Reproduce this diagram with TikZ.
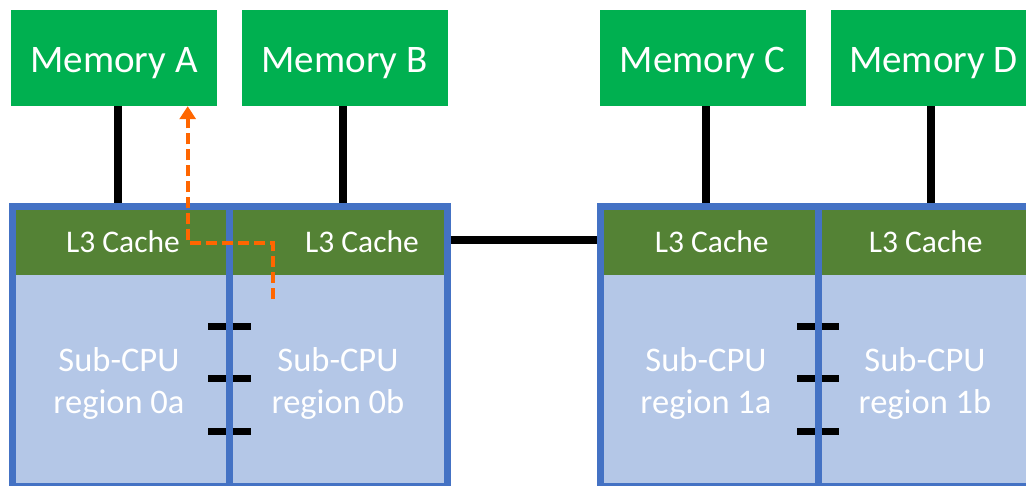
\documentclass[tikz,border=0pt]{standalone}
\usepackage{fontspec}
\setmainfont{Carlito}
\usetikzlibrary{arrows.meta,calc}
\definecolor{memgreen}{HTML}{00B050}
\definecolor{cachegreen}{HTML}{548235}
\definecolor{cpublue}{HTML}{4472C4}
\definecolor{cpufill}{HTML}{B4C7E7}
\definecolor{pathorange}{HTML}{FF6600}
\begin{document}
\begin{tikzpicture}[x=1pt,y=-1pt,
 mem/.style={fill=memgreen, text=white, minimum width=206pt, minimum height=96pt, inner sep=0pt, text height=29.5pt, text depth=0pt, font=\fontsize{39}{46}\selectfont},
 region/.style={draw=cpublue, fill=cpufill, line width=7pt, inner sep=0pt, minimum height=280pt},
 cache/.style={fill=cachegreen, text=white, inner sep=0pt, minimum height=65pt, text depth=0pt, font=\fontsize{31.5}{38}\selectfont},
 cpulbl/.style={text=white, inner sep=0pt, align=center, font=\fontsize{34.5}{42}\selectfont},
 bus/.style={line width=8pt, black},
 tickmark/.style={line width=7pt, black},
 route/.style={pathorange, line width=4pt, dash pattern=on 11pt off 5pt, -{Triangle[width=16pt,length=13pt]}}
]
\clip (0,0) rectangle (1026,485);
\useasboundingbox (0,0) rectangle (1026,485);

% memories
\node[mem] (memA) at (114,58) {Memory A};
\node[mem] (memB) at (344.5,58) {Memory B};
\node[mem] (memC) at (702.5,58) {Memory C};
\node[mem] (memD) at (933.5,58) {Memory D};

% sub-CPU regions
\node[region, minimum width=217pt] (r0a) at (120.5,346) {};
\node[region, minimum width=218pt] (r0b) at (338,346) {};
\node[region, minimum width=217.5pt] (r1a) at (709.25,346) {};
\node[region, minimum width=218pt] (r1b) at (927,346) {};

% caches
\node[cache, minimum width=210pt] (c0a) at (120.5,242) {\hspace*{5pt}L3 Cache};
\node[cache, minimum width=211pt] (c0b) at (338,242) {\hspace*{48pt}L3 Cache};
\node[cache, minimum width=210.5pt] (c1a) at (709.25,242) {\hspace*{5pt}L3 Cache};
\node[cache, minimum width=218pt] (c1b) at (930.75,242) {\hspace*{-10pt}L3 Cache};

% labels
\node[cpulbl] (l0a) at (119,383) {Sub-CPU\\region 0a};
\node[cpulbl] (l0b) at (338,383) {Sub-CPU\\region 0b};
\node[cpulbl] (l1a) at (706,383) {Sub-CPU\\region 1a};
\node[cpulbl] (l1b) at (925,383) {Sub-CPU\\region 1b};

% memory links
\draw[bus] ([xshift=3.5pt]memA.south) -- ([xshift=3.5pt]memA.south |- r0a.north);
\draw[bus] ([xshift=-2pt]memB.south) -- ([xshift=-2pt]memB.south |- r0b.north);
\draw[bus] ([xshift=3.5pt]memC.south) -- ([xshift=3.5pt]memC.south |- r1a.north);
\draw[bus] ([xshift=-2.5pt]memD.south) -- ([xshift=-2.5pt]memD.south |- r1b.north);

% inter-package link
\coordinate (busy) at (0,240);
\draw[bus] (r0b.east |- busy) -- (r1a.west |- busy);

% tick marks across dividers
\foreach \ty in {326,378.5,431} {
  \draw[tickmark] (208,\ty) -- (225.5,\ty);
  \draw[tickmark] (232.5,\ty) -- (251,\ty);
  \draw[tickmark] (797,\ty) -- (814.5,\ty);
  \draw[tickmark] (821.5,\ty) -- (839,\ty);
}

% orange route
\coordinate (rs) at (273,299);
\coordinate (rb) at (187.7,243.3);
\draw[route] (rs) |- (rb) -- (rb |- memA.south);
\end{tikzpicture}
\end{document}
